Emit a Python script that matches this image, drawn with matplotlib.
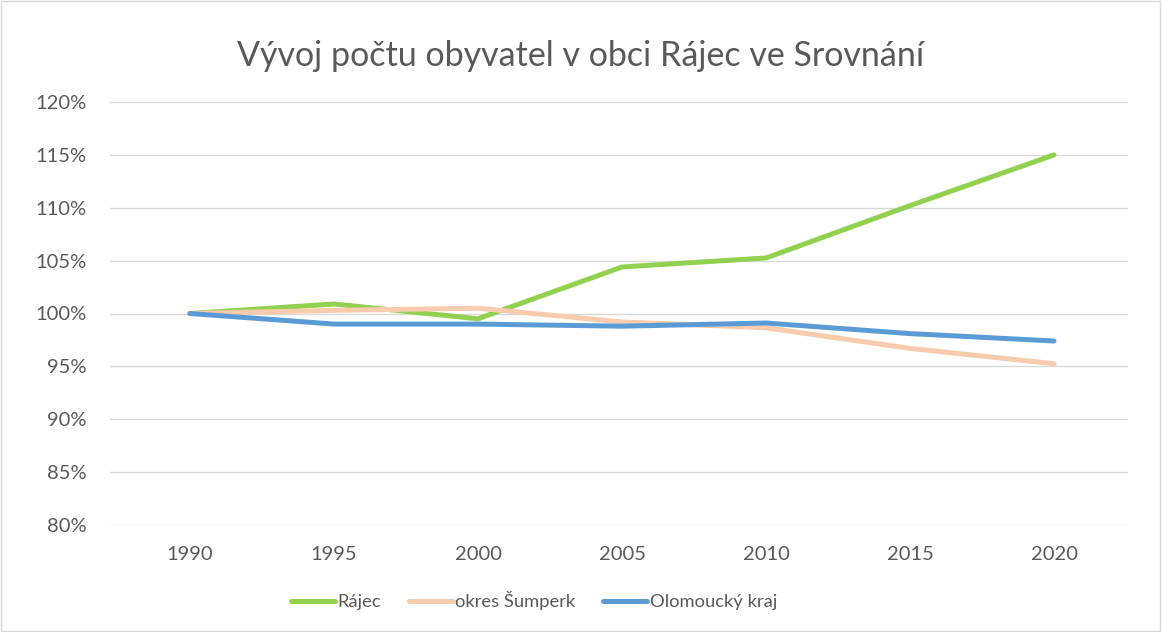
import matplotlib.pyplot as plt
from matplotlib.patches import Rectangle
from matplotlib.ticker import FuncFormatter

plt.rcParams['font.family'] = ['Lato', 'DejaVu Sans']

roky = ['1990', '1995', '2000', '2005', '2010', '2015', '2020']
rajec = [100.0, 100.9, 99.5, 104.4, 105.25, 110.2, 115.0]
sumperk = [100.0, 100.3, 100.5, 99.2, 98.65, 96.7, 95.25]
olomoucky = [100.0, 99.0, 99.0, 98.8, 99.1, 98.1, 97.4]

fig = plt.figure(figsize=(11.62, 6.32), dpi=100)
ax = fig.add_axes([110 / 1162, 1 - 525 / 632, 1018 / 1162, 423 / 632])

x = range(len(roky))
lw = 3.6
ax.plot(x, rajec, color='#92D050', lw=lw, solid_capstyle='round', label='Rájec')
ax.plot(x, sumperk, color='#F8CBAD', lw=lw, solid_capstyle='round', label='okres Šumperk')
ax.plot(x, olomoucky, color='#5B9BD5', lw=lw, solid_capstyle='round', label='Olomoucký kraj')

ax.set_xlim(-80 / 144, 6 + 74 / 144)
ax.set_ylim(80, 120)
ax.set_yticks(range(80, 121, 5))
ax.yaxis.set_major_formatter(FuncFormatter(lambda v, p: f'{v:.0f}%'))
ax.set_xticks(list(x))
ax.set_xticklabels(roky)
ax.grid(axis='y', color='#D9D9D9', lw=1)
ax.set_axisbelow(True)
for s in ax.spines.values():
    s.set_visible(False)
ax.tick_params(length=0, labelsize=14.5, labelcolor='#595959')
ax.tick_params(axis='y', pad=17)
ax.tick_params(axis='x', pad=15)

fig.text(0.5, 1 - 56 / 632, 'Vývoj počtu obyvatel v obci Rájec ve Srovnání',
         ha='center', va='center', fontsize=24.5, color='#595959')

fig.legend(loc='center', bbox_to_anchor=(534 / 1162, 1 - 601 / 632), ncol=3,
           frameon=False, fontsize=13.2, labelcolor='#595959',
           handlelength=2.4, handletextpad=0.15, columnspacing=1.5)

fig.add_artist(Rectangle((0.001, 0.001), 0.997, 0.997, transform=fig.transFigure,
                         fill=False, edgecolor='#D9D9D9', lw=1))

fig.savefig('out.png', dpi=100)
